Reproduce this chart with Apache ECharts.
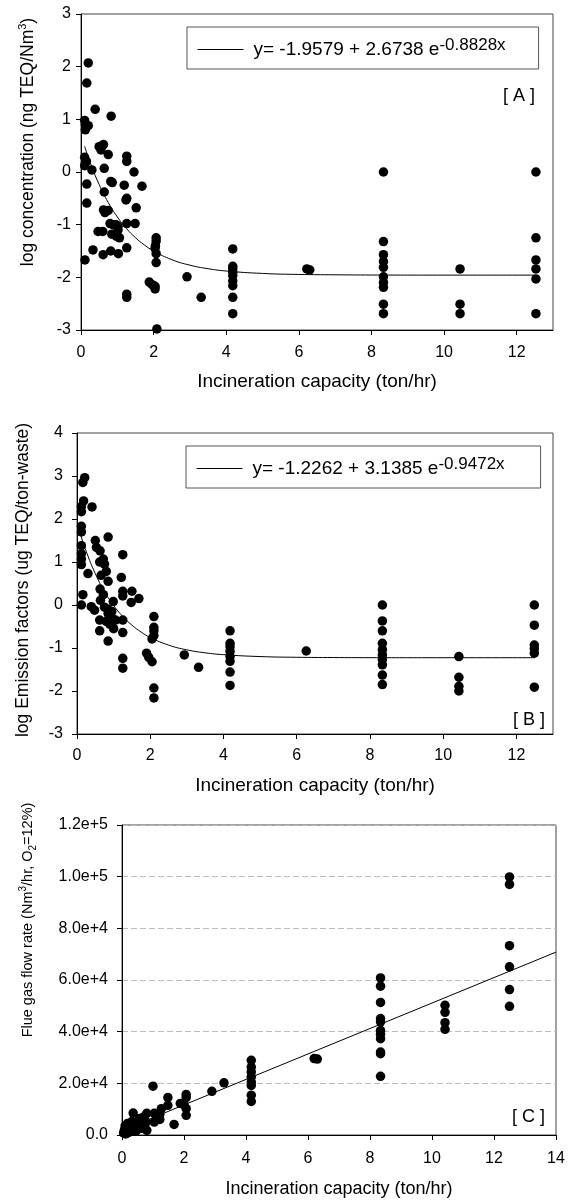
<!DOCTYPE html>
<html><head><meta charset="utf-8">
<script src="https://cdn.jsdelivr.net/npm/echarts@6/dist/echarts.min.js"></script>
<style>html,body{margin:0;padding:0;background:#fff}#c{width:570px;height:1200px}</style>
</head><body><div id="c"></div>
<script>
// ---------- Panel A: log concentration ----------
const capA = [
0.20,0.16,0.39,0.83, 0.10,0.12,0.20,0.12, 0.50,0.62,0.55,0.58, 0.75, 0.10,0.10,0.15, 0.30,
1.26,1.26, 0.64, 1.46, 0.82,0.86, 0.16, 1.19, 1.68, 0.64, 1.26,1.24, 0.16,
0.62,0.75,0.66, 1.52, 1.49,1.26, 0.80,0.88,0.96,1.02, 0.47,0.60, 0.85,0.97,1.06,1.02,
1.26, 0.33, 0.61, 0.82,1.03, 0.11,
2.07,2.07,2.05,2.04,2.07,2.07, 1.88,1.96,2.04,2.04, 1.26,1.26, 2.09, 2.92, 3.31,
4.18,4.18,4.18,4.18,4.18,4.18,4.18,4.18,4.18, 6.22,6.30,
8.33,8.33,8.33,8.33,8.33,8.33,8.33,8.33,8.33,8.33,
10.44,10.44,10.44,
12.53,12.53,12.53,12.53,12.53,12.53];
const logConcA = [
2.07,1.69,1.19,1.06, 0.98,0.90,0.88,0.80, 0.48,0.52,0.42,0.50, 0.33, 0.28,0.12,0.20, 0.04,
0.30,0.20, 0.07, 0.00, -0.18,-0.20, -0.23, -0.25, -0.27, -0.38, -0.50,-0.53, -0.59,
-0.72,-0.73,-0.77, -0.68, -0.98,-0.98, -0.98,-1.00,-1.00,-1.03, -1.13,-1.13, -1.18,-1.22,-1.25,-1.10,
-1.44, -1.48, -1.57, -1.50,-1.55, -1.67,
-1.25,-1.31,-1.40,-1.45,-1.55,-1.72, -2.09,-2.14,-2.17,-2.22, -2.32,-2.38, -2.98, -1.99, -2.38,
-1.46,-1.79,-1.84,-1.91,-1.97,-2.07,-2.16,-2.38,-2.69, -1.84,-1.86,
0.00,-1.32,-1.57,-1.70,-1.81,-1.99,-2.10,-2.19,-2.51,-2.69,
-1.84,-2.51,-2.69,
0.00,-1.25,-1.67,-1.84,-2.03,-2.69];
// fitted curve as printed: y = -1.9579 + 2.6738 e^(-0.8828x)
const coefA = ['-1.9579', '2.6738', '-0.8828'];
const fitAx = [0.1,0.25,0.5,0.75,1,1.25,1.5,1.75,2,2.5,3,3.5,4,5,6,7,8,10,12.5];
const fitAy = [0.490,0.186,-0.238,-0.579,-0.852,-1.071,-1.247,-1.387,-1.500,-1.664,-1.769,-1.836,-1.880,-1.926,-1.945,-1.952,-1.956,-1.958,-1.958];

// ---------- Panel B: log emission factors ----------
const capB = [
0.21,0.16,0.18,0.12,0.12,0.41,
0.12,0.12,0.12,0.12,0.12,0.12,
0.16,0.12,0.39,0.48,0.30,
0.50,0.53,0.85,
0.63,0.72,0.62,0.75,0.80,
0.66,0.85,
1.25,1.21,
0.63,0.72,0.64,
1.25,1.25,
1.50,1.48,1.69,
0.99,0.75,0.85,0.95,
0.85,0.95,0.80,1.05,1.25,
0.62,0.90,1.00,0.62,1.25,0.85,
2.10,2.10,2.10,2.10,2.05,
1.90,1.96,2.05,
1.25,1.25,
2.10,2.10,
2.93,3.32,
4.18,4.18,4.18,4.18,4.18,4.18,4.18,4.18,
6.26,
8.34,8.34,8.34,8.34,8.34,8.34,8.34,8.34,8.34,8.34,
10.43,10.43,10.43,10.43,
12.49,12.49,12.49,12.49,12.49,12.49];
const logEfB = [
2.96,2.85,2.42,2.29,2.17,2.28,
1.83,1.70,1.38,1.19,1.07,0.94,
0.24,0.00,-0.04,-0.12,0.73,
1.50,1.34,1.58,
1.26,1.07,1.00,0.95,0.78,
0.69,0.55,
1.17,0.64,
0.37,0.24,0.11,
0.32,0.21,
0.32,0.06,0.15,
0.08,-0.05,-0.10,-0.15,
-0.20,-0.30,-0.38,-0.35,-0.35,
-0.35,-0.45,-0.55,-0.60,-0.64,-0.84,
-0.27,-0.52,-0.60,-0.71,-0.79,
-1.12,-1.22,-1.32,
-1.24,-1.47,
-1.93,-2.16,
-1.16,-1.45,
-0.60,-0.89,-0.97,-1.08,-1.20,-1.31,-1.56,-1.87,
-1.07,
0.00,-0.37,-0.60,-0.89,-1.04,-1.16,-1.27,-1.39,-1.63,-1.85,
-1.20,-1.68,-1.89,-2.00,
0.00,-0.47,-0.93,-1.02,-1.12,-1.91];
// fitted curve as printed: y = -1.2262 + 3.1385 e^(-0.9472x)
const coefB = ['-1.2262', '3.1385', '-0.9472'];
const fitBx = [0.1,0.25,0.5,0.75,1,1.25,1.5,1.75,2,2.5,3,3.5,4,5,6,7,8,10,12.5];
const fitBy = [1.629,1.250,0.729,0.316,-0.009,-0.266,-0.468,-0.628,-0.754,-0.932,-1.043,-1.112,-1.155,-1.199,-1.216,-1.222,-1.225,-1.226,-1.226];

// ---------- Panel C: flue gas flow rate ----------
const capC = [
0.05,0.08,0.10,0.12,0.15,0.18,0.20,0.22,0.25,0.30,0.32,0.40,0.36,0.45,0.50,
0.57,0.57,0.62,0.80,0.78,0.80,0.70,1.04,1.04,1.00,1.22,1.22,1.27,1.48,1.48,1.68,1.88,2.07,2.07,2.00,2.07,2.07,
2.90,3.29,
4.17,4.17,4.17,4.17,4.17,4.17,4.17,4.17,
6.20,6.30,
8.34,8.34,8.34,8.34,8.34,8.34,8.34,8.34,8.34,8.34,8.34,
10.42,10.42,10.42,10.42,
12.50,12.50,12.50,12.50,12.50,12.50];
const flowC = [
800,2000,3500,400,1500,4500,2800,1000,3800,2200,5200,3000,8500,1500,4200,
6400,4000,2600,8400,5000,1800,7000,8400,5000,18900,8000,6000,10200,14500,11500,4100,12200,15700,14500,11800,10200,7600,
16900,20200,
28900,26300,24400,22500,20500,19200,15400,13000,
29600,29400,
60800,57600,51300,45100,43800,40500,39000,37300,32100,31500,22700,
50200,47500,43500,40900,
99900,97000,73300,65100,56300,49800];
const fitCx = [0, 14];
const fitCy = [1800, 70800];
const yLabelsC = ['0.0','2.0e+4','4.0e+4','6.0e+4','8.0e+4','1.0e+5','1.2e+5'];

const xTitle = 'Incineration capacity (ton/hr)';
const panelTags = ['[ A ]', '[ B ]', '[ C ]'];

// ---------- build ----------
const FF = '"Liberation Sans", Arial, Helvetica, sans-serif';
const zip = (a, b) => a.map((v, i) => [v, b[i]]);
const black = '#000';

function xAxisCfg(gi, max, labelMargin, nameGap, nameSize) {
  return {
    gridIndex: gi, type: 'value', min: 0, max: max, interval: 2,
    name: xTitle, nameLocation: 'middle', nameGap: nameGap,
    nameTextStyle: {fontFamily: FF, fontSize: nameSize, color: black},
    axisLine: {show: true, onZero: false, lineStyle: {color: black, width: 1}},
    axisTick: {show: true, inside: false, length: 5, lineStyle: {color: black}},
    axisLabel: {fontFamily: FF, fontSize: 16, color: black, margin: labelMargin, showMaxLabel: max === 14},
    splitLine: {show: false}
  };
}
function yAxisCfg(gi, min, max, interval, margin, extra) {
  return Object.assign({
    gridIndex: gi, type: 'value', min: min, max: max, interval: interval,
    axisLine: {show: true, onZero: false, lineStyle: {color: black, width: 1}},
    axisTick: {show: true, inside: false, length: 5, lineStyle: {color: black}},
    axisLabel: {fontFamily: FF, fontSize: 16, color: black, margin: margin},
    splitLine: {show: false}
  }, extra || {});
}
function legendCfg(name, coef, left, top, padR) {
  return {
    data: [name], left: left, top: top, orient: 'horizontal',
    padding: [10, padR, 10, 10], itemWidth: 46, itemHeight: 10,
    backgroundColor: '#fff', borderColor: '#555', borderWidth: 1, borderRadius: 0,
    selectedMode: false,
    itemStyle: {opacity: 0},
    lineStyle: {color: black, width: 1},
    formatter: () => '{m|y= ' + coef[0] + ' + ' + coef[1] + ' e}{s|' + coef[2] + 'x}',
    textStyle: {rich: {
      m: {fontFamily: FF, fontSize: 19, color: black, lineHeight: 25, padding: [0, 0, 0, 5]},
      s: {fontFamily: FF, fontSize: 17, color: black, lineHeight: 15, verticalAlign: 'top'}
    }}
  };
}
const scatterStyle = {symbol: 'circle', symbolSize: 9.5, itemStyle: {color: black, opacity: 1}, z: 3};
const lineStyle = {symbol: 'none', showSymbol: false, smooth: true, itemStyle: {color: black}, lineStyle: {color: black, width: 1}, z: 2, silent: true};

function rotTitle(x, y, text, rich) {
  return {type: 'text', x: x, y: y, rotation: Math.PI / 2, silent: true,
    style: {text: text, align: 'center', verticalAlign: 'middle', fill: black, rich: rich}};
}

const option = {
  animation: false,
  backgroundColor: '#fff',
  grid: [
    {left: 81, top: 14, width: 472, height: 316, show: true, borderColor: '#444', borderWidth: 1, containLabel: false, outerBoundsMode: 'none'},
    {left: 77, top: 433, width: 476, height: 301, show: true, borderColor: '#444', borderWidth: 1, containLabel: false, outerBoundsMode: 'none'},
    {left: 122, top: 825, width: 434, height: 310, show: true, borderColor: '#444', borderWidth: 1, containLabel: false, outerBoundsMode: 'none'}
  ],
  xAxis: [
    xAxisCfg(0, 13, 15, 42, 19),
    xAxisCfg(1, 13, 14, 42, 19),
    xAxisCfg(2, 14, 16, 45, 18)
  ],
  yAxis: [
    yAxisCfg(0, -3, 3, 1, 10),
    yAxisCfg(1, -3, 4, 1, 14),
    yAxisCfg(2, 0, 120000, 20000, 14, {
      axisLabel: {fontFamily: FF, fontSize: 16, color: black, margin: 14,
        formatter: v => yLabelsC[Math.round(v / 20000)]},
      splitLine: {show: true, lineStyle: {color: '#bbb', width: 1, type: [6, 3]}}
    })
  ],
  legend: [
    legendCfg('fitA', coefA, 187, 27, 33),
    legendCfg('fitB', coefB, 186, 446, 36)
  ],
  series: [
    Object.assign({type: 'scatter', name: 'dataA', xAxisIndex: 0, yAxisIndex: 0, data: zip(capA, logConcA)}, scatterStyle),
    Object.assign({type: 'line', name: 'fitA', xAxisIndex: 0, yAxisIndex: 0, data: zip(fitAx, fitAy)}, lineStyle),
    Object.assign({type: 'scatter', name: 'dataB', xAxisIndex: 1, yAxisIndex: 1, data: zip(capB, logEfB)}, scatterStyle),
    Object.assign({type: 'line', name: 'fitB', xAxisIndex: 1, yAxisIndex: 1, data: zip(fitBx, fitBy)}, lineStyle),
    Object.assign({type: 'scatter', name: 'dataC', xAxisIndex: 2, yAxisIndex: 2, data: zip(capC, flowC)}, scatterStyle),
    Object.assign({type: 'line', name: 'fitC', xAxisIndex: 2, yAxisIndex: 2, data: zip(fitCx, fitCy)}, lineStyle, {smooth: false})
  ],
  graphic: {elements: [
    rotTitle(28, 142, '{m|log concentration (ng TEQ/Nm}{s|3}{m|)}', {
      m: {fontFamily: FF, fontSize: 17.5, fill: black, lineHeight: 22},
      s: {fontFamily: FF, fontSize: 11, fill: black, lineHeight: 11, verticalAlign: 'top'}}),
    rotTitle(23, 580, '{m|log Emission factors (ug TEQ/ton-waste)}', {
      m: {fontFamily: FF, fontSize: 17.5, fill: black, lineHeight: 22}}),
    rotTitle(28, 920, '{m|Flue gas flow rate (Nm}{s|3}{m|/hr, O}{b|2}{m|=12%)}', {
      m: {fontFamily: FF, fontSize: 14.5, fill: black, lineHeight: 20},
      s: {fontFamily: FF, fontSize: 10, fill: black, lineHeight: 10, verticalAlign: 'top'},
      b: {fontFamily: FF, fontSize: 10, fill: black, lineHeight: 10, verticalAlign: 'bottom'}}),
    {type: 'text', x: 535, y: 96, silent: true, style: {text: panelTags[0], align: 'right', verticalAlign: 'middle', fill: black, font: '18px ' + FF}},
    {type: 'text', x: 545, y: 720, silent: true, style: {text: panelTags[1], align: 'right', verticalAlign: 'middle', fill: black, font: '18px ' + FF}},
    {type: 'text', x: 545, y: 1117, silent: true, style: {text: panelTags[2], align: 'right', verticalAlign: 'middle', fill: black, font: '18px ' + FF}}
  ]}
};
const chart = echarts.init(document.getElementById('c'), null, {renderer: 'canvas', width: 570, height: 1200});
chart.setOption(option);
</script>
</body></html>
